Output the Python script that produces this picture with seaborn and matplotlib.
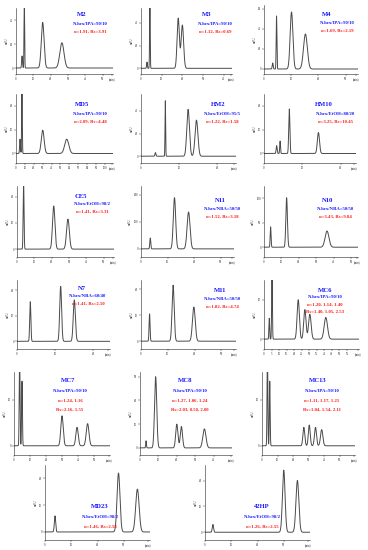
import numpy as np
import pandas as pd
import matplotlib
matplotlib.use("Agg")
import matplotlib.pyplot as plt
import seaborn as sns

sns.set_style("ticks")
plt.rcParams["font.family"] = ["Liberation Serif", "DejaVu Serif"]

W, H = 368, 550

# ---------------- data: peaks (retention time, height, width) ----------------
M2_rt = [3.5, 4.8, 15.4, 26.5];  M2_h = [10, 56, 38, 21];  M2_sd = [0.25, 0.18, 0.8, 1.2]
M3_rt = [2.9, 4.3, 18.0, 20.0];  M3_h = [5.5, 55, 44, 38];  M3_sd = [0.18, 0.15, 0.55, 0.6]
M4_rt = [3.2, 4.6, 10.1, 15.2];  M4_h = [6, 53, 57, 35];  M4_sd = [0.18, 0.13, 0.5, 0.7]
MD5_rt = [4.5, 6.7, 30.0, 57.0];  MD5_h = [6, 30, 9.8, 6];  MD5_sd = [0.45, 0.35, 1.6, 2.3]
HM2_rt = [3.8, 6.4, 12.4, 14.6];  HM2_h = [3.2, 49, 41.4, 31.9];  HM2_sd = [0.13, 0.08, 0.35, 0.38]
HM10_rt = [3.3, 4.2, 6.6, 14.2];  HM10_h = [3.3, 5.2, 18.7, 8.8];  HM10_sd = [0.13, 0.1, 0.15, 0.28]
CE5_rt = [3.8, 21.2, 29.4];  CE5_h = [26, 16.4, 11.4];  CE5_sd = [0.25, 0.7, 0.8]
N11_rt = [3.5, 12.6, 17.9];  N11_h = [40, 189, 136];  N11_sd = [0.18, 0.45, 0.55]
N10_rt = [3.8, 13.0, 36.2];  N10_h = [41.5, 101, 33];  N10_sd = [0.25, 0.45, 1.1]
N7_rt = [3.5, 11.5, 15.1];  N7_h = [15.5, 21.5, 16.2];  N7_sd = [0.15, 0.25, 0.28]
M11_rt = [3.2, 12.0, 19.75];  M11_h = [10.5, 21.5, 13.1];  M11_sd = [0.18, 0.4, 0.52]
MC6_rt = [3.5, 5.3, 22.7, 27.1, 30.4, 41.0];  MC6_h = [5.3, 16, 10, 7.5, 6.3, 5.5];  MC6_sd = [0.25, 0.25, 0.75, 0.75, 0.85, 1.1]
MC7_rt = [3.5, 5.0, 30.0, 39.4, 46.0];  MC7_h = [20, 14, 6.5, 4.0, 4.8];  MC7_sd = [0.25, 0.25, 0.75, 0.75, 0.85]
MC8_rt = [3.3, 8.5, 20.0, 22.5, 35.0];  MC8_h = [3, 30, 10, 9, 8];  MC8_sd = [0.2, 0.6, 0.6, 0.6, 0.85]
MC13_rt = [3.5, 5.0, 27.0, 30.5, 34.5, 38.5];  MC13_h = [22, 14, 4, 4.5, 4, 3.5];  MC13_sd = [0.25, 0.25, 0.6, 0.6, 0.65, 0.75]
MD23_rt = [3.8, 28.0, 35.2];  MD23_h = [6, 22, 16];  MD23_sd = [0.25, 0.55, 0.65]
HP42_rt = [3.0, 30.0, 35.2];  HP42_h = [3, 24, 20];  HP42_sd = [0.25, 0.5, 0.55]

titles = ["M2", "M3", "M4", "MD5", "HM2", "HM10", "CE5", "N11", "N10", "N7", "M11",
          "MC6", "MC7", "MC8", "MC13", "MD23", "42HP"]
phases = ["N-hex/IPA=90/10", "N-hex/IPA=90/10", "N-hex/IPA=90/10", "N-hex/IPA=90/10",
          "N-hex/EtOH=95/5", "N-hex/EtOH=80/20", "N-hex/EtOH=98/2", "N-hex/NBA=50/50",
          "N-hex/NBA=50/50", "N-hex/NBA=60/40", "N-hex/NBA=50/50", "N-hex/IPA=90/10",
          "N-hex/IPA=90/10", "N-hex/IPA=90/10", "N-hex/IPA=90/10", "N-hex/EtOH=98/2",
          "N-hex/EtOH=98/2"]
results = [["α=1.91, Rs=3.91"], ["α=1.12, Rs=0.69"], ["α=1.69, Rs=2.19"], ["α=2.09, Rs=4.48"],
           ["α=1.22, Rs=1.58"], ["α=3.25, Rs=10.45"], ["α=1.41, Rs=3.31"], ["α=1.52, Rs=3.18"],
           ["α=3.43, Rs=9.84"], ["α=1.41, Rs=2.50"], ["α=1.82, Rs=4.74"],
           ["α=1.20, 1.14, 1.40", "Rs=1.40, 1.05, 2.53"],
           ["α=1.24, 1.16", "Rs=2.16, 1.55"],
           ["α=1.27, 1.06, 1.24", "Rs=2.03, 0.50, 2.00"],
           ["α=1.11, 1.17, 1.21", "Rs=1.04, 1.54, 2.11"],
           ["α=1.46, Rs=2.58"], ["α=1.26, Rs=2.55"]]
peaks = [(M2_rt, M2_h, M2_sd), (M3_rt, M3_h, M3_sd), (M4_rt, M4_h, M4_sd),
         (MD5_rt, MD5_h, MD5_sd), (HM2_rt, HM2_h, HM2_sd), (HM10_rt, HM10_h, HM10_sd),
         (CE5_rt, CE5_h, CE5_sd), (N11_rt, N11_h, N11_sd), (N10_rt, N10_h, N10_sd),
         (N7_rt, N7_h, N7_sd), (M11_rt, M11_h, M11_sd), (MC6_rt, MC6_h, MC6_sd),
         (MC7_rt, MC7_h, MC7_sd), (MC8_rt, MC8_h, MC8_sd), (MC13_rt, MC13_h, MC13_sd),
         (MD23_rt, MD23_h, MD23_sd), (HP42_rt, HP42_h, HP42_sd)]
xticks = [list(range(0, 51, 10)), list(range(0, 41, 10)), list(range(0, 31, 10)),
          list(range(0, 101, 10)), [0, 10, 20], [0, 10, 20], list(range(0, 51, 10)),
          [0, 10, 20, 30], list(range(0, 51, 10)), [0, 10, 20], [0, 10, 20, 30],
          list(range(0, 56, 5)), list(range(0, 51, 10)), list(range(0, 41, 10)),
          list(range(0, 51, 10)), [0, 10, 20, 30], [0, 10, 20, 30]]
xmax = [56, 44, 34.5, 109, 25, 24, 56, 35, 54, 24.5, 35.5, 63, 60, 50, 60, 40, 40]
ylims = [(-5, 50), (-5, 53), (-5, 64), (-4, 25), (-6, 55), (-4, 25), (-3, 24), (-30, 232),
         (-20, 125), (-3, 24), (-3, 23.5), (-2.5, 15), (-2, 16), (-3, 32), (-2, 16),
         (-3, 25), (-3, 26)]
yticks = [[0, 20, 40], [0, 20, 40], [0, 20, 40, 60], [0, 10, 20], [0, 20, 40], [0, 10, 20],
          [0, 10, 20], [0, 100, 200], [0, 50, 100], [0, 10, 20], [0, 10, 20], [0, 10],
          [0, 10], [0, 10, 20, 30], [0, 10], [0, 10, 20], [0, 10, 20]]

# ---------------- layout (pixels: left, top, right, bottom) ----------------
rects = [(16, 8, 113, 74), (141, 8, 232, 74), (264, 5, 358, 74),
         (16, 94, 113, 163), (141, 94, 236, 163), (264, 94, 356, 163),
         (17, 186, 114, 257), (141, 186, 234, 257), (264, 186, 358, 257),
         (17, 280, 110, 349), (141, 280, 236, 349), (264, 280, 359, 349),
         (14, 372, 110, 455), (140, 372, 232, 455), (262, 372, 355, 455),
         (45, 465, 150, 540), (205, 465, 310, 540)]
# text anchor (title x, title y, line x, first line y, line spacing)
texts = [(82, 15, 90, 24, 8), (207, 15, 215, 24, 8), (327, 15, 337, 23, 8),
         (82, 105, 90, 114, 8), (218, 105, 222, 114, 8), (324, 105, 335, 114, 8),
         (81, 197, 92, 204, 8), (220, 200, 222, 209, 8), (328, 200, 335, 209, 8),
         (82, 288, 88, 296, 8), (220, 290, 222, 299, 8), (325, 290, 325, 297, 7.5),
         (68, 381, 70, 391, 9.5), (185, 381, 190, 391, 9.5), (318, 381, 322, 391, 9.5),
         (100, 507, 100, 517, 9.5), (262, 507, 262, 517, 9.5)]

BLUE = "#1a1aff"
RED = "#ff1a1a"

fig = plt.figure(figsize=(W / 100, H / 100), dpi=100)
fig.patch.set_facecolor("white")

for i, name in enumerate(titles):
    l, t, r, b = rects[i]
    ax = fig.add_axes([l / W, 1 - b / H, (r - l) / W, (b - t) / H])
    rt, hh, sd = peaks[i]
    x = np.linspace(0, xmax[i], 3000)
    y = np.zeros_like(x)
    for c, a, s in zip(rt, hh, sd):
        y = y + a * np.exp(-0.5 * ((x - c) / s) ** 2)
    df = pd.DataFrame({"t": x, "s": y})
    sns.lineplot(data=df, x="t", y="s", ax=ax, color="#4a4a4a", linewidth=0.7)
    ax.set_xlim(0, xmax[i])
    ax.set_ylim(*ylims[i])
    tk = xticks[i] + [xmax[i] - 0.6]
    ax.set_xticks(tk)
    ax.set_xticklabels([str(v) for v in xticks[i]] + ["(min)"])
    ax.set_yticks(yticks[i])
    ax.set_xlabel("")
    ax.set_ylabel("mAU", fontsize=2.2, labelpad=1)
    ax.tick_params(labelsize=2.2, length=1.2, width=0.3, pad=0.8)
    for sp in ["top", "right"]:
        ax.spines[sp].set_visible(False)
    for sp in ["left", "bottom"]:
        ax.spines[sp].set_linewidth(0.4)
    ax.set_facecolor("none")

    tx, ty, lx, ly, dy = texts[i]
    fig.text(tx / W, 1 - ty / H, name, color=BLUE, fontsize=4.8, fontweight="bold",
             ha="center", va="center")
    fig.text(lx / W, 1 - ly / H, phases[i], color=BLUE, fontsize=3.4, fontweight="bold",
             ha="center", va="center")
    for k, line in enumerate(results[i]):
        fig.text(lx / W, 1 - (ly + dy * (k + 1)) / H, line, color=RED, fontsize=3.4,
                 fontweight="bold", ha="center", va="center")

fig.savefig("out.png", dpi=100, facecolor="white")
